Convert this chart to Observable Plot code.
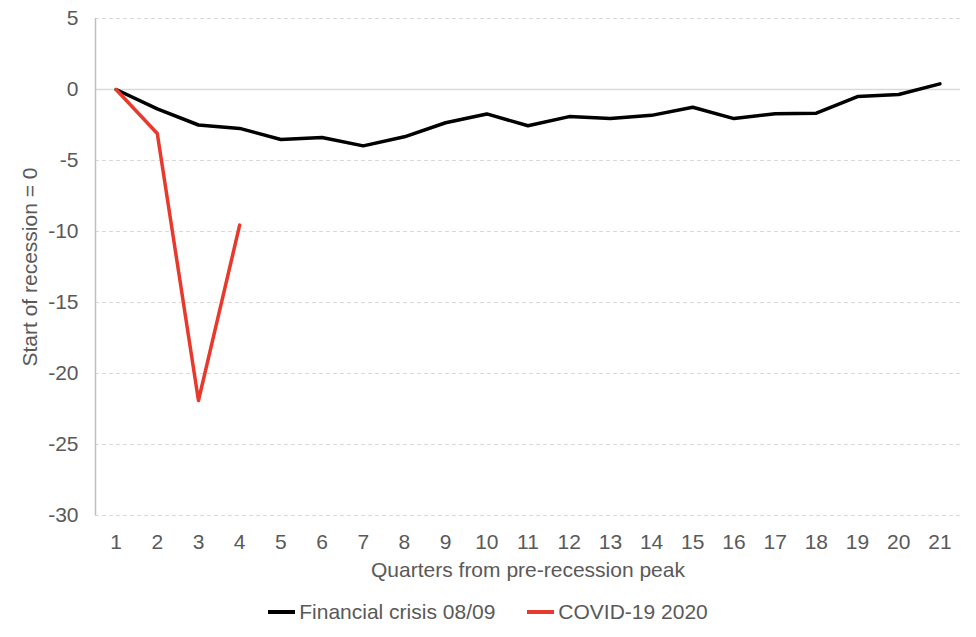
<!DOCTYPE html>
<html>
<head>
<meta charset="utf-8">
<script src="https://cdn.jsdelivr.net/npm/d3@7"></script>
<script src="https://cdn.jsdelivr.net/npm/@observablehq/plot@0.6"></script>
<style>
  html, body { margin: 0; padding: 0; background: #fff; }
  body { width: 976px; font-family: "Liberation Sans", Arial, sans-serif; }
  #legend { display: flex; justify-content: center; align-items: center; height: 44px; font-size: 21px; color: #595959; margin-left: 0px; }
  .item { display: flex; align-items: center; margin: 0 16px; }
  .sw { width: 27px; height: 4px; margin-right: 4px; }
</style>
</head>
<body>
<div id="chart"></div>
<div id="legend"></div>
<script>
const quarters = [1,2,3,4,5,6,7,8,9,10,11,12,13,14,15,16,17,18,19,20,21];
const financialCrisis = [0,-1.37,-2.5,-2.74,-3.52,-3.38,-3.97,-3.33,-2.34,-1.72,-2.55,-1.91,-2.05,-1.82,-1.25,-2.05,-1.70,-1.67,-0.50,-0.35,0.40];
const covid = [0,-3.1,-21.9,-9.55];
const seriesNames = ["Financial crisis 08/09", "COVID-19 2020"];
const seriesColors = ["#000000", "#e8392c"];
const yTicks = [5,0,-5,-10,-15,-20,-25,-30];

const data = [
  ...financialCrisis.map((v,i) => ({q: quarters[i], v, s: seriesNames[0]})),
  ...covid.map((v,i) => ({q: quarters[i], v, s: seriesNames[1]}))
];

const plot = Plot.plot({
  width: 976,
  height: 590,
  marginTop: 18,
  marginBottom: 75,
  marginLeft: 95,
  marginRight: 16,
  style: {fontFamily: "'Liberation Sans', Arial, sans-serif", fontSize: "21px", color: "#595959", background: "#fff"},
  x: {domain: [0.5, 21.5], label: null},
  y: {domain: [-30, 5], label: null},
  color: {domain: seriesNames, range: seriesColors},
  marks: [
    Plot.ruleY(yTicks.filter(d => d !== 0), {stroke: "#d9d9d9", strokeDasharray: "4,3", strokeWidth: 1}),
    Plot.ruleY([0], {stroke: "#d9d9d9", strokeWidth: 1.5}),
    Plot.ruleX([0.5], {stroke: "#bfbfbf", strokeWidth: 1.5}),
    Plot.axisX({ticks: quarters, tickSize: 0, tickPadding: 19, tickFormat: d => String(d), label: null, fill: "#595959", fontSize: 21}),
    Plot.axisY({ticks: yTicks, tickSize: 0, tickPadding: 17, tickFormat: d => String(d), label: null, fill: "#595959", fontSize: 21}),
    Plot.text(["Quarters from pre-recession peak"], {frameAnchor: "bottom", lineAnchor: "middle", dy: 55, fill: "#595959", fontSize: 21}),
    Plot.text(["Start of recession = 0"], {frameAnchor: "left", textAnchor: "middle", lineAnchor: "middle", dx: -65, rotate: -90, fill: "#595959", fontSize: 21}),
    Plot.line(data, {x: "q", y: "v", z: "s", stroke: "s", strokeWidth: 3.5, strokeLinejoin: "round"})
  ]
});
document.getElementById("chart").appendChild(plot);

const legend = document.getElementById("legend");
seriesNames.forEach((n, i) => {
  const it = document.createElement("div");
  it.className = "item";
  const sw = document.createElement("span");
  sw.className = "sw";
  sw.style.background = seriesColors[i];
  const t = document.createElement("span");
  t.textContent = n;
  it.appendChild(sw); it.appendChild(t);
  legend.appendChild(it);
});
</script>
</body>
</html>
